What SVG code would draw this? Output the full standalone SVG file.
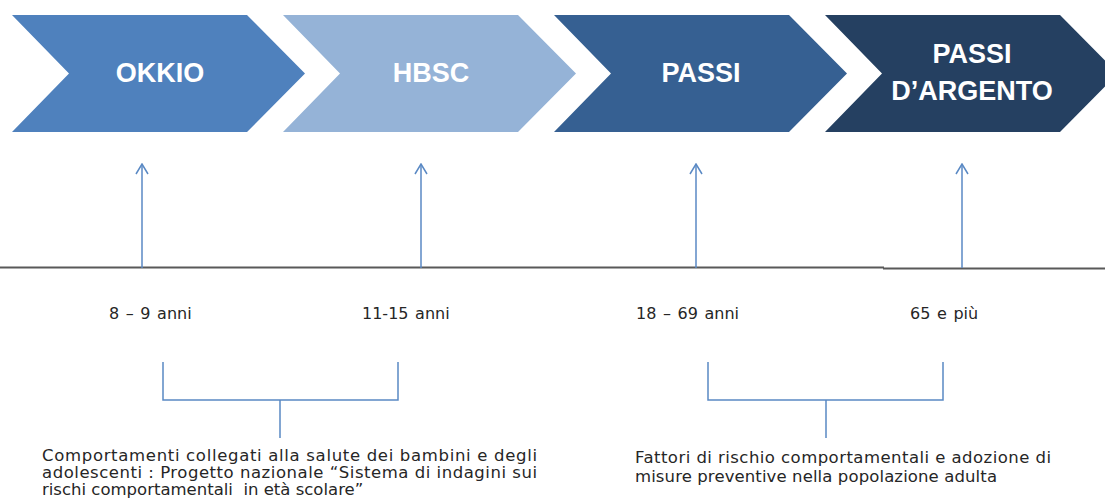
<svg xmlns="http://www.w3.org/2000/svg" width="1105" height="503" viewBox="0 0 1105 503">
<defs>
<style>
.chev-label{font-family:"Liberation Sans",Arial,sans-serif;font-weight:bold;font-size:27px;fill:#ffffff;text-anchor:middle}
.age{font-family:"DejaVu Sans",Verdana,sans-serif;font-size:16px;fill:#262626;word-spacing:1.5px}
.desc{font-family:"DejaVu Sans",Verdana,sans-serif;font-size:16.5px;fill:#262626}
.conn{stroke:#5A89C4;stroke-width:1.5;fill:none}
.axis{stroke:#595959;stroke-width:2;fill:none}
</style>
<marker id="arr" viewBox="0 0 12 14" refX="11" refY="7" markerWidth="12" markerHeight="14" markerUnits="userSpaceOnUse" orient="auto">
<path d="M1,1 L11,7 L1,13" fill="none" stroke="#5A89C4" stroke-width="1.5"/>
</marker>
</defs>
<rect width="1105" height="503" fill="#ffffff"/>

<g id="okkio">
<polygon points="12,15 247,15 305,73.5 247,132 12,132 69,73.5" fill="#4F81BD"/>
<text class="chev-label" x="160" y="82">OKKIO</text>
</g>
<g id="hbsc">
<polygon points="283,15 518,15 576,73.5 518,132 283,132 340,73.5" fill="#95B3D7"/>
<text class="chev-label" x="431" y="82">HBSC</text>
</g>
<g id="passi">
<polygon points="554,15 789,15 847,73.5 789,132 554,132 611,73.5" fill="#366092"/>
<text class="chev-label" x="701" y="82">PASSI</text>
</g>
<g id="passi-argento">
<polygon points="825,15 1060,15 1118,73.5 1060,132 825,132 882,73.5" fill="#254061"/>
<text class="chev-label" x="972" y="63">PASSI</text>
<text class="chev-label" x="972" y="100">D’ARGENTO</text>
</g>

<g id="timeline">
<line class="axis" x1="0" y1="267.5" x2="884" y2="267.5"/>
<line class="axis" x1="883" y1="268.5" x2="1105" y2="268.5"/>
</g>

<g id="connectors">
<line class="conn" x1="142" y1="268" x2="142" y2="164" marker-end="url(#arr)"/>
<line class="conn" x1="421" y1="268" x2="421" y2="164" marker-end="url(#arr)"/>
<line class="conn" x1="696" y1="268" x2="696" y2="164" marker-end="url(#arr)"/>
<line class="conn" x1="962" y1="268" x2="962" y2="164" marker-end="url(#arr)"/>
<path class="conn" d="M163,362 V400 H398 V362 M280,400 V438"/>
<path class="conn" d="M708,362 V400 H943 V362 M826,400 V438"/>
</g>

<g id="ages">
<text class="age" x="109" y="319">8 – 9 anni</text>
<text class="age" x="362" y="319">11-15 anni</text>
<text class="age" x="636" y="319">18 – 69 anni</text>
<text class="age" x="910" y="319">65 e più</text>
</g>

<g id="desc-left">
<text class="desc" x="42" y="461" textLength="495" lengthAdjust="spacing">Comportamenti collegati alla salute dei bambini e degli</text>
<text class="desc" x="42" y="478" textLength="495" lengthAdjust="spacing">adolescenti : Progetto nazionale “Sistema di indagini sui</text>
<text class="desc" x="42" y="495" xml:space="preserve">rischi comportamentali  in età scolare”</text>
</g>

<g id="desc-right">
<text class="desc" x="635" y="463" textLength="416" lengthAdjust="spacing">Fattori di rischio comportamentali e adozione di</text>
<text class="desc" x="635" y="482" textLength="362" lengthAdjust="spacing">misure preventive nella popolazione adulta</text>
</g>
</svg>
